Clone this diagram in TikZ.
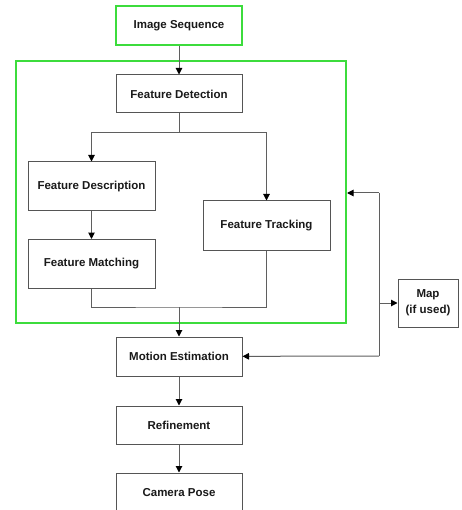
\documentclass[tikz,border=0pt]{standalone}
\usepackage{fontspec}
\setmainfont{Liberation Sans}
\usetikzlibrary{arrows.meta}
\definecolor{boxgray}{RGB}{85,85,85}
\definecolor{linegray}{RGB}{95,95,95}
\definecolor{hlgreen}{RGB}{60,220,60}
\definecolor{txt}{RGB}{25,25,25}
\begin{document}
\begin{tikzpicture}[x=1pt,y=-1pt,
  box/.style={draw=boxgray,line width=1pt,rectangle,inner sep=0pt,
    text=txt,font=\bfseries\fontsize{11.5}{16}\selectfont,align=center},
  gbox/.style={draw=hlgreen,line width=2pt,rectangle,inner sep=0pt},
  conn/.style={draw=linegray,line width=1pt},
  arr/.style={conn,-{Triangle[length=6.5pt,width=6.5pt,color=black]}}]
\useasboundingbox (0,0) rectangle (461,510);
\fill[white] (0,0) rectangle (461,510);
% containers
\node[box,draw=hlgreen,line width=2pt,minimum width=126,minimum height=39] (is) at (179,25.5) {Image Sequence};
\node[gbox,minimum width=330,minimum height=262] (proc) at (181,192) {};
% boxes
\node[box,minimum width=126,minimum height=38] (fd) at (179,94) {Feature Detection};
\node[box,minimum width=127,minimum height=49] (fdesc) at (91.5,186.5) {Feature Description};
\node[box,minimum width=127,minimum height=49] (fm) at (91.5,264) {Feature Matching};
\node[box,minimum width=127,minimum height=49] (ft) at (266.5,225.5) {Feature Tracking};
\node[box,minimum width=126,minimum height=39] (me) at (179,356.5) {Motion Estimation};
\node[box,minimum width=126,minimum height=38] (rf) at (179,425) {Refinement};
\node[box,minimum width=126,minimum height=60] (cp) at (179,503) {};
\node[text=txt,font=\bfseries\fontsize{11.5}{13}\selectfont] (cpt) at (179,493) {Camera Pose};
\node[box,minimum width=60,minimum height=48] (map) at (428,303) {Map\\(if used)};
% coordinates
\coordinate (br) at (179,133);
\coordinate (jn) at (179,307);
\coordinate (r1) at (379,193);
\coordinate (r3) at (379,303);
\coordinate (r2) at (379,356);
% connectors
\draw[arr] (is) -- (fd);
\draw[conn] (fd) -- (br);
\draw[arr] (br) -| (fdesc);
\draw[arr] (br) -| (ft);
\draw[arr] (fdesc) -- (fm);
\draw[conn] (fm) |- (jn) -| (ft);
\draw[arr] (jn) -- (me);
\draw[arr] (me) -- (rf);
\draw[arr] (rf) -- (cp);
\draw[conn] (r1) -- (r2);
\draw[arr] (r1) -- (proc.east |- r1);
\draw[arr] (r3) -- (map);
\draw[arr] (r2) -- (me);
\end{tikzpicture}
\end{document}
